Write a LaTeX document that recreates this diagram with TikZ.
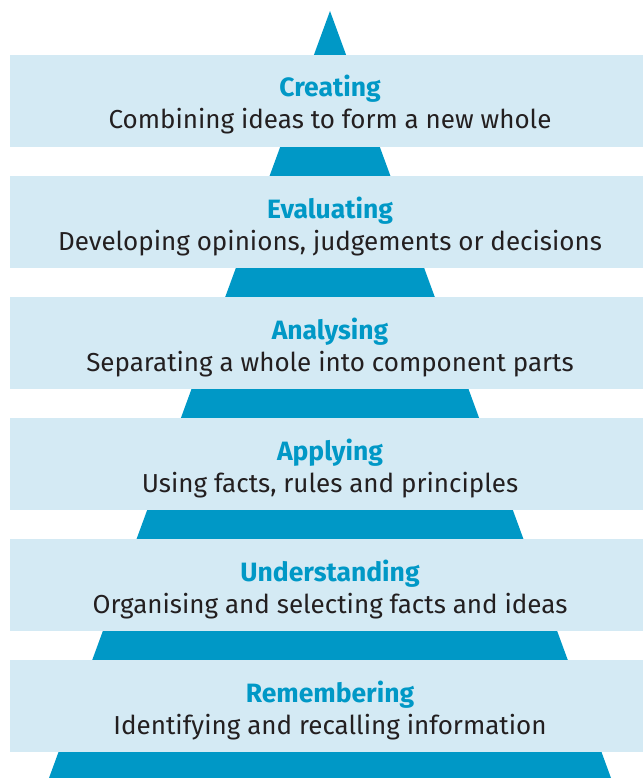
\documentclass[tikz,border=0pt]{standalone}
\usepackage{fontspec}
\setmainfont{Fira Sans}
\definecolor{pyr}{HTML}{0098C6}
\definecolor{barbg}{HTML}{D4EAF4}
\definecolor{txt}{HTML}{231F20}
\begin{document}
\begin{tikzpicture}[x=1pt,y=-1pt,
  bar/.style={fill=barbg,draw=none},
  ttl/.style={anchor=base,text=pyr,font=\fontsize{26.5}{30}\selectfont\bfseries,inner sep=0pt},
  dsc/.style={anchor=base,text=txt,font=\fontsize{26}{30}\selectfont,inner sep=0pt}]
\useasboundingbox (0,0) rectangle (643,778);
\fill[pyr] (330,11) -- (611,778) -- (49,778) -- cycle;
\foreach \y/\t/\d [count=\i] in {
  55/Creating/Combining ideas to form a new whole,
  176/Evaluating/{Developing opinions, judgements or decisions},
  297/Analysing/Separating a whole into component parts,
  418/Applying/{Using facts, rules and principles},
  539/Understanding/Organising and selecting facts and ideas,
  660/Remembering/Identifying and recalling information}{
  \fill[bar] (10,\y) rectangle (643,\y+92);
  \node[ttl] (t\i) at (330,\y+42) {\t};
  \node[dsc] (d\i) at (330,\y+74) {\d};
}
\end{tikzpicture}
\end{document}
